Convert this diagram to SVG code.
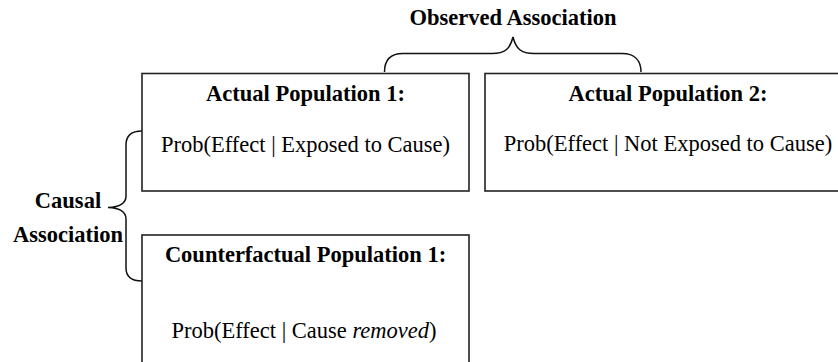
<svg xmlns="http://www.w3.org/2000/svg" width="838" height="362" viewBox="0 0 838 362">
  <style>
    .box { fill: #ffffff; stroke: #222222; stroke-width: 1.6; }
    .brace { fill: none; stroke: #111111; stroke-width: 1.5; }
    .t { font-family: "Liberation Serif", "Times New Roman", serif; font-size: 22.5px; fill: #000000; text-anchor: middle; }
    .b { font-weight: bold; }
    .i { font-style: italic; }
  </style>
  <rect width="838" height="362" fill="#ffffff"/>

  <g id="connectors">
    <path class="brace" d="M384.5,72 C384.5,60 391,53.5 403,53.5 L492,53.5 C505,53.5 510,49 513,37 C516,49 521,53.5 534,53.5 L622,53.5 C634,53.5 641,60 641,72"/>
    <path class="brace" d="M142,131 C132,131 126,135 126,145 L126,196 C126,203 120,207 108,207.5 C120,208 126,212 126,219 L126,268 C126,277 132,281 142,281"/>
  </g>

  <g id="observed-association">
    <text class="t b" x="513" y="25">Observed Association</text>
  </g>

  <g id="causal-association">
    <text class="t b" x="68" y="208">Causal</text>
    <text class="t b" x="68" y="242">Association</text>
  </g>

  <g id="actual-population-1">
    <rect class="box" x="142" y="73.5" width="327" height="117.5"/>
    <text class="t b" x="305.5" y="101">Actual Population 1:</text>
    <text class="t" x="305.5" y="151.5">Prob(Effect | Exposed to Cause)</text>
  </g>

  <g id="actual-population-2">
    <rect class="box" x="485" y="73.5" width="366" height="117.5"/>
    <text class="t b" x="668" y="101">Actual Population 2:</text>
    <text class="t" x="668" y="151">Prob(Effect | Not Exposed to Cause)</text>
  </g>

  <g id="counterfactual-population-1">
    <rect class="box" x="142" y="235" width="327" height="140"/>
    <text class="t b" x="305.5" y="262">Counterfactual Population 1:</text>
    <text class="t" x="304" y="337.5">Prob(Effect | Cause <tspan class="i">removed</tspan>)</text>
  </g>
</svg>
